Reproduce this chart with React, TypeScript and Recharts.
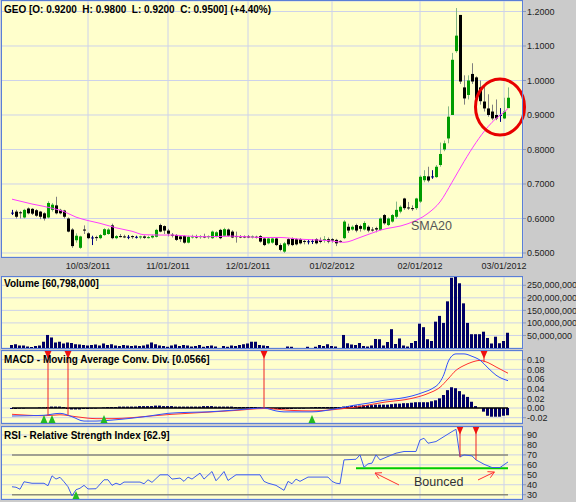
import React from 'react';
import {
  ComposedChart,
  Bar,
  Line,
  XAxis,
  YAxis,
  CartesianGrid,
  ReferenceLine,
  ReferenceDot,
} from 'recharts';

// daily candles, GEO, Sep 2011 - Mar 2012
const opens = [
  0.617, 0.62, 0.618, 0.603, 0.629, 0.628, 0.624, 0.62, 0.615, 0.603, 0.625, 0.638, 0.625, 0.623, 0.6, 0.568, 0.537, 0.515, 0.568, 0.557,
  0.545, 0.546, 0.543, 0.552, 0.555, 0.58, 0.543, 0.549, 0.548, 0.547, 0.549, 0.547, 0.546, 0.548, 0.544, 0.545, 0.547, 0.581, 0.578, 0.565,
  0.553, 0.552, 0.548, 0.549, 0.53, 0.547, 0.549, 0.546, 0.548, 0.546, 0.543, 0.548, 0.567, 0.55, 0.568, 0.562, 0.549, 0.548, 0.548, 0.548,
  0.546, 0.547, 0.549, 0.542, 0.528, 0.53, 0.542, 0.523, 0.504, 0.54, 0.542, 0.54, 0.54, 0.535, 0.534, 0.535, 0.54, 0.537, 0.538, 0.54,
  0.54, 0.538, 0.535, 0.543, 0.576, 0.568, 0.581, 0.578, 0.568, 0.576, 0.568, 0.572, 0.567, 0.61, 0.581, 0.591, 0.605, 0.62, 0.658, 0.632,
  0.63, 0.63, 0.649, 0.711, 0.722, 0.722, 0.72, 0.755, 0.8, 0.832, 0.9, 1.085, 1.19, 0.98, 0.958, 1.019, 1.009, 0.98, 0.939, 0.919,
  0.91, 0.9, 0.9, 0.89, 0.92,
];
const highs = [
  0.625, 0.625, 0.622, 0.628, 0.632, 0.63, 0.627, 0.622, 0.618, 0.65, 0.645, 0.663, 0.628, 0.625, 0.603, 0.572, 0.557, 0.55, 0.58, 0.56,
  0.55, 0.55, 0.555, 0.572, 0.572, 0.585, 0.552, 0.555, 0.553, 0.552, 0.551, 0.55, 0.55, 0.551, 0.55, 0.553, 0.57, 0.585, 0.58, 0.57,
  0.558, 0.555, 0.552, 0.552, 0.55, 0.553, 0.553, 0.552, 0.556, 0.551, 0.565, 0.563, 0.57, 0.573, 0.571, 0.566, 0.562, 0.552, 0.551, 0.552,
  0.551, 0.55, 0.552, 0.545, 0.545, 0.546, 0.545, 0.528, 0.532, 0.543, 0.545, 0.543, 0.543, 0.538, 0.538, 0.54, 0.543, 0.545, 0.549, 0.545,
  0.543, 0.541, 0.537, 0.595, 0.585, 0.58, 0.585, 0.582, 0.592, 0.58, 0.575, 0.576, 0.603, 0.613, 0.603, 0.613, 0.649, 0.638, 0.66, 0.648,
  0.638, 0.66, 0.725, 0.74, 0.75, 0.74, 0.755, 0.82, 0.826, 0.925, 1.08, 1.21, 1.19, 1.015, 1.015, 1.05, 1.012, 1.0, 0.985, 0.96,
  0.93, 0.945, 0.92, 0.95, 0.98,
];
const lows = [
  0.61, 0.6, 0.6, 0.6, 0.612, 0.61, 0.605, 0.598, 0.594, 0.6, 0.62, 0.612, 0.612, 0.6, 0.56, 0.515, 0.53, 0.512, 0.555, 0.54,
  0.523, 0.535, 0.54, 0.55, 0.553, 0.54, 0.54, 0.545, 0.543, 0.54, 0.541, 0.542, 0.54, 0.541, 0.542, 0.542, 0.545, 0.56, 0.555, 0.548,
  0.545, 0.535, 0.532, 0.527, 0.528, 0.542, 0.542, 0.541, 0.543, 0.541, 0.541, 0.545, 0.54, 0.548, 0.547, 0.543, 0.53, 0.543, 0.543, 0.543,
  0.542, 0.542, 0.53, 0.52, 0.525, 0.527, 0.52, 0.505, 0.5, 0.52, 0.52, 0.522, 0.525, 0.525, 0.525, 0.526, 0.525, 0.528, 0.53, 0.528,
  0.53, 0.52, 0.53, 0.54, 0.558, 0.565, 0.56, 0.562, 0.565, 0.56, 0.562, 0.56, 0.565, 0.582, 0.578, 0.588, 0.6, 0.615, 0.625, 0.625,
  0.622, 0.625, 0.645, 0.705, 0.705, 0.715, 0.718, 0.75, 0.795, 0.818, 0.9, 1.08, 0.99, 0.93, 0.945, 0.99, 0.945, 0.93, 0.91, 0.895,
  0.885, 0.885, 0.88, 0.888, 0.92,
];
const closes = [
  0.617, 0.605, 0.617, 0.625, 0.615, 0.614, 0.608, 0.605, 0.6, 0.645, 0.64, 0.615, 0.615, 0.605, 0.562, 0.52, 0.55, 0.548, 0.565, 0.543,
  0.545, 0.545, 0.552, 0.569, 0.568, 0.543, 0.549, 0.547, 0.546, 0.547, 0.546, 0.547, 0.548, 0.544, 0.546, 0.55, 0.567, 0.562, 0.565, 0.556,
  0.552, 0.538, 0.54, 0.53, 0.547, 0.548, 0.545, 0.549, 0.546, 0.549, 0.562, 0.56, 0.543, 0.569, 0.55, 0.545, 0.548, 0.547, 0.547, 0.546,
  0.548, 0.546, 0.533, 0.523, 0.542, 0.542, 0.523, 0.509, 0.528, 0.525, 0.523, 0.525, 0.528, 0.534, 0.534, 0.535, 0.528, 0.532, 0.54, 0.533,
  0.536, 0.528, 0.534, 0.591, 0.565, 0.576, 0.565, 0.57, 0.587, 0.565, 0.567, 0.568, 0.6, 0.586, 0.6, 0.61, 0.625, 0.634, 0.63, 0.631,
  0.629, 0.658, 0.721, 0.723, 0.71, 0.722, 0.75, 0.787, 0.818, 0.895, 1.06, 1.13, 0.997, 0.948, 1.0, 0.997, 0.948, 0.94, 0.919, 0.9,
  0.89, 0.89, 0.9, 0.91, 0.95,
];
// volume in millions of shares
const volumes = [
  12, 15, 10, 10, 6, 4, 8, 10, 25, 52, 42, 22, 25, 18, 22, 20, 15, 14, 12, 10,
  12, 14, 10, 18, 12, 15, 10, 8, 12, 10, 8, 10, 8, 10, 14, 22, 15, 10, 8, 5,
  10, 14, 8, 12, 10, 6, 8, 12, 5, 8, 10, 6, 0, 8, 5, 10, 8, 12, 15, 18,
  25, 25, 12, 10, 8, 0, 0, 0, 0, 6, 5, 0, 0, 0, 5, 0, 5, 12, 8, 15,
  8, 6, 0, 52, 19, 14, 12, 20, 8, 6, 10, 36, 35, 10, 24, 75, 16, 38, 10, 6,
  20, 28, 97, 83, 35, 28, 105, 128, 100, 186, 280, 286, 258, 178, 100, 55, 55, 55, 65, 40,
  18, 45, 19, 28, 60.798,
];
const macdHist = [
  -0.002, -0.002, -0.001, -0.001, 0, 0, 0, 0.001, 0.001, 0.002, 0.003, 0.003, 0.003, 0.002, -0.002, -0.003, -0.003, -0.003, -0.002, -0.002,
  -0.001, -0.001, 0, 0.001, 0.002, 0.002, 0.002, 0.003, 0.003, 0.003, 0.003, 0.003, 0.004, 0.004, 0.004, 0.004, 0.005, 0.005, 0.004, 0.004,
  0.004, 0.003, 0.003, 0.003, 0.003, 0.003, 0.003, 0.003, 0.004, 0.004, 0.004, 0.003, 0.003, 0.003, 0.003, 0.003, 0.002, 0.002, 0.002, 0.002,
  0.002, 0.002, 0.001, 0, -0.001, -0.002, -0.002, -0.002, -0.002, -0.002, -0.002, -0.001, -0.001, -0.001, 0, 0.001, 0.002, 0.002, 0.002, 0.002,
  0.002, 0.002, 0.002, 0.003, 0.004, 0.004, 0.005, 0.005, 0.006, 0.006, 0.006, 0.007, 0.007, 0.007, 0.007, 0.008, 0.009, 0.009, 0.01, 0.01,
  0.011, 0.012, 0.012, 0.012, 0.012, 0.014, 0.016, 0.02, 0.027, 0.037, 0.043, 0.041, 0.035, 0.028, 0.023, 0.013, 0.004, 0, -0.0075, -0.016,
  -0.018, -0.018, -0.018, -0.016, -0.015,
];

// [bar index, value]
const smaPoints: [number, number][] = [
  [0, 0.656], [5, 0.642], [10, 0.63], [13, 0.62], [16, 0.604], [19, 0.594], [22, 0.586], [26, 0.573], [30, 0.563], [33, 0.553],
  [37, 0.552], [40, 0.552], [44, 0.549], [49, 0.547], [55, 0.549], [62, 0.545], [67, 0.545], [72, 0.54], [79, 0.536], [83, 0.531],
  [87, 0.545], [92, 0.566], [99, 0.585], [104, 0.615], [107, 0.648], [110, 0.705], [113, 0.765], [116, 0.82], [119, 0.866],
  [121, 0.89], [123, 0.908], [124, 0.919],
];
const macdPoints: [number, number][] = [
  [0, -0.0165], [4, -0.016], [8, -0.015], [12, -0.011], [15, -0.018], [18, -0.027], [21, -0.027], [25, -0.025], [30, -0.021],
  [34, -0.017], [39, -0.011], [44, -0.009], [49, -0.008], [56, -0.004], [63, 0], [66, -0.006], [68, -0.008], [75, -0.008],
  [80, -0.003], [82, 0], [85, 0.005], [89, 0.01], [93, 0.016], [97, 0.02], [100, 0.025], [103, 0.033], [105, 0.04], [107, 0.054],
  [108, 0.07], [109, 0.095], [110, 0.108], [111, 0.112], [113, 0.112], [115, 0.107], [117, 0.099], [119, 0.083], [121, 0.068],
  [124, 0.0566],
];
const signalPoints: [number, number][] = [
  [0, -0.013], [4, -0.015], [8, -0.016], [12, -0.014], [16, -0.018], [21, -0.022], [25, -0.022], [30, -0.02], [34, -0.017],
  [40, -0.013], [48, -0.009], [56, -0.005], [63, -0.001], [70, -0.005], [75, -0.006], [82, -0.002], [86, 0.002], [93, 0.012],
  [100, 0.02], [104, 0.03], [107, 0.043], [109, 0.06], [111, 0.078], [113, 0.088], [115, 0.095], [117, 0.0985], [118, 0.097],
  [119, 0.094], [121, 0.085], [124, 0.072],
];
const rsiPoints: [number, number][] = [
  [0, 38], [1, 37.5], [2, 35.5], [3, 43], [5, 41.5], [8, 41.5], [9, 39], [10, 49], [11, 45.7], [12, 47.5], [13, 43], [14, 38],
  [15, 28.8], [16, 35], [17, 36.5], [18, 39.4], [19, 35.8], [21, 36], [23, 45], [24, 45], [25, 39.4], [26, 41.6], [27, 40],
  [28, 42.7], [32, 42.7], [33, 41], [34, 45], [35, 42.4], [37, 50], [39, 50], [40, 45.7], [42, 46.7], [43, 43.4], [44, 47.7],
  [45, 45.7], [47, 51.7], [48, 45.7], [50, 53.3], [51, 44], [52, 48.4], [53, 53.3], [54, 44.3], [56, 50], [62, 50], [63, 43.4],
  [64, 41.6], [66, 39.4], [68, 34.4], [69, 43.4], [70, 41], [71, 45.7], [72, 43.4], [74, 47.7], [79, 47.7], [80, 43.4],
  [81, 41.6], [82, 41], [83, 65], [86, 65.6], [87, 70], [88, 57.6], [89, 61], [90, 61.7], [91, 70], [92, 65], [94, 68.4],
  [96, 71.7], [98, 73.4], [101, 73.4], [102, 85], [103, 86.7], [104, 81.7], [106, 83.4], [108, 88.4], [110, 93.4], [111, 95.7],
  [112, 68], [113, 70], [114, 69.5], [115, 69], [116, 65], [118, 60.6], [120, 57.3], [122, 57.3], [124, 62.9],
];

const dateTicks = [19, 39, 59, 80, 102, 123];
const dateLabels = ['10/03/2011', '11/01/2011', '12/01/2011', '01/02/2012', '02/01/2012', '03/01/2012'];
const priceTicks = [0.5, 0.6, 0.7, 0.8, 0.9, 1.0, 1.1, 1.2];
const volumeTicks = [50, 100, 150, 200, 250];
const macdTicks = [-0.02, 0, 0.02, 0.04, 0.06, 0.08, 0.1];
const rsiTicks = [30, 40, 50, 60, 70, 80, 90];

// signal markers: bar index and where the marker line ends
const macdSells = [
  { i: 9, end: -0.0145 },
  { i: 14, end: -0.0145 },
  { i: 63, end: 0 },
  { i: 118, end: 0.095 },
];
const macdBuys = [8, 10, 23, 75];
const rsiSells = [
  { i: 112, end: 67.6 },
  { i: 116, end: 65 },
];
const rsiBuys = [16];
const rsiSupport = 56.6;

const smaMap = new Map(smaPoints);
const macdMap = new Map(macdPoints);
const signalMap = new Map(signalPoints);
const rsiMap = new Map(rsiPoints);

const rows = opens.map((o, i) => ({
  i,
  o,
  h: highs[i],
  l: lows[i],
  c: closes[i],
  range: [lows[i], highs[i]],
  vol: volumes[i],
  hist: macdHist[i],
  sma: smaMap.get(i) ?? null,
  macd: macdMap.get(i) ?? null,
  signal: signalMap.get(i) ?? null,
  rsi: rsiMap.get(i) ?? null,
}));

const GRID = '#cdd2ea';
const PANEL = '#ffffcc';
const BORDER = '#5a7fd6';
const X_DOMAIN = [-2.75, 127.75];
const axisTick = { fontSize: 9, fill: '#222' };

const Candle = (props: any) => {
  const { x, width, payload } = props;
  let { y, height } = props;
  if (x == null || payload == null) return null;
  if (height < 0) {
    y += height;
    height = -height;
  }
  const { o, h, l, c } = payload;
  const px = Math.round(x + width / 2);
  const span = h - l;
  const py = (v: number) => (span > 0 ? y + ((h - v) / span) * height : y);
  const up = c > o;
  const down = c < o;
  const body = up ? '#009c00' : down ? '#000000' : '#000080';
  const wick = up ? '#86b886' : down ? '#808080' : '#000080';
  const top = py(Math.max(o, c));
  const bot = py(Math.min(o, c));
  return (
    <g>
      <line x1={px + 0.5} x2={px + 0.5} y1={y} y2={y + Math.max(height, 1)} stroke={wick} strokeWidth={1} />
      {up || down ? (
        <rect x={px - 1} y={top} width={3} height={Math.max(1, bot - top)} fill={body} />
      ) : (
        <line x1={px - 1} x2={px + 2} y1={top + 0.5} y2={top + 0.5} stroke={body} strokeWidth={1} />
      )}
    </g>
  );
};

const TriDown = (p: any) => (
  <polygon points={`${p.cx - 3.5},${p.cy - 4} ${p.cx + 3.5},${p.cy - 4} ${p.cx},${p.cy + 4}`} fill="#ee1111" />
);
const TriUp = (p: any) => (
  <polygon points={`${p.cx - 3.5},${p.cy + 4} ${p.cx + 3.5},${p.cy + 4} ${p.cx},${p.cy - 4}`} fill="#22bb22" />
);
const Ring = (p: any) => (
  <ellipse cx={p.cx} cy={p.cy} rx={24.5} ry={28} fill="none" stroke="#e80000" strokeWidth={3} />
);
const Arrow = (p: any) => {
  const { x1, y1, x2, y2 } = p;
  const a = Math.atan2(y2 - y1, x2 - x1);
  const len = 7;
  const hx1 = x2 - len * Math.cos(a - 0.5);
  const hy1 = y2 - len * Math.sin(a - 0.5);
  const hx2 = x2 - len * Math.cos(a + 0.5);
  const hy2 = y2 - len * Math.sin(a + 0.5);
  return (
    <g stroke="#ff3030" strokeWidth={1} fill="none">
      <line x1={x1} y1={y1} x2={x2} y2={y2} />
      <polyline points={`${hx1},${hy1} ${x2},${y2} ${hx2},${hy2}`} />
    </g>
  );
};

const Border = ({ top, height }: { top: number; height: number }) => (
  <div
    style={{
      position: 'absolute',
      left: 1,
      top,
      width: 522,
      height,
      boxSizing: 'border-box',
      border: `1px solid ${BORDER}`,
      pointerEvents: 'none',
    }}
  />
);

const Title = ({ top, children }: { top: number; children: React.ReactNode }) => (
  <div
    style={{
      position: 'absolute',
      left: 4,
      top,
      fontSize: 10,
      lineHeight: '12px',
      fontWeight: 'bold',
      color: '#000',
      whiteSpace: 'pre',
    }}
  >
    {children}
  </div>
);

export default function App() {
  return (
    <div
      style={{
        position: 'absolute',
        left: 0,
        top: 0,
        width: 576,
        height: 502,
        background: '#cbcbcb',
        overflow: 'hidden',
        fontFamily: '"Liberation Sans", Arial, sans-serif',
      }}
    >
      {/* price */}
      <div style={{ position: 'absolute', left: 0, top: 0 }}>
        <ComposedChart width={576} height={275} data={rows} margin={{ top: 1, right: 0, left: 1, bottom: 0 }}>
          <CartesianGrid stroke={GRID} fill={PANEL} />
          <XAxis
            dataKey="i"
            type="number"
            domain={X_DOMAIN}
            ticks={dateTicks}
            allowDataOverflow
            interval={0}
            height={18}
            tickLine={false}
            axisLine={false}
            tickSize={0}
            tickMargin={6}
            tick={axisTick}
            tickFormatter={(v) => dateLabels[dateTicks.indexOf(v)] ?? ''}
          />
          <YAxis
            orientation="right"
            width={53}
            domain={[0.4884, 1.2304]}
            ticks={priceTicks}
            allowDataOverflow
            interval={0}
            axisLine={false}
            tickSize={3}
            tickMargin={1}
            stroke="#8899bb"
            tick={axisTick}
            tickFormatter={(v) => v.toFixed(4)}
          />
          <Bar dataKey="range" barSize={3} shape={<Candle />} isAnimationActive={false} />
          <Line
            dataKey="sma"
            type="monotone"
            stroke="#ff3cff"
            strokeWidth={1}
            dot={false}
            activeDot={false}
            connectNulls
            isAnimationActive={false}
          />
          <ReferenceDot x={122} y={0.923} r={26} shape={Ring} ifOverflow="visible" />
        </ComposedChart>
      </div>
      <Border top={0} height={258} />
      <Title top={4}>GEO [O: 0.9200  H: 0.9800  L: 0.9200  C: 0.9500] (+4.40%)</Title>
      <div style={{ position: 'absolute', left: 411, top: 219, fontSize: 12.5, lineHeight: '15px', color: '#555' }}>
        SMA20
      </div>

      {/* volume */}
      <div style={{ position: 'absolute', left: 0, top: 277 }}>
        <ComposedChart width={576} height={71} data={rows} margin={{ top: 0, right: 0, left: 1, bottom: 0 }}>
          <CartesianGrid stroke={GRID} fill={PANEL} />
          <XAxis hide dataKey="i" type="number" domain={X_DOMAIN} ticks={dateTicks} allowDataOverflow />
          <YAxis
            orientation="right"
            width={53}
            domain={[0, 283]}
            ticks={volumeTicks}
            allowDataOverflow
            interval={0}
            axisLine={false}
            tickSize={3}
            tickMargin={1}
            stroke="#8899bb"
            tick={axisTick}
            tickFormatter={(v) => (v * 1e6).toLocaleString('en-US')}
          />
          <Bar dataKey="vol" barSize={3} fill="#000066" isAnimationActive={false} />
        </ComposedChart>
      </div>
      <Border top={276} height={73} />
      <Title top={278}>Volume [60,798,000]</Title>

      {/* MACD */}
      <div style={{ position: 'absolute', left: 0, top: 351 }}>
        <ComposedChart width={576} height={72} data={rows} margin={{ top: 0, right: 0, left: 1, bottom: 0 }}>
          <CartesianGrid stroke={GRID} fill={PANEL} />
          <XAxis hide dataKey="i" type="number" domain={X_DOMAIN} ticks={dateTicks} allowDataOverflow />
          <YAxis
            orientation="right"
            width={53}
            domain={[-0.031, 0.118]}
            ticks={macdTicks}
            allowDataOverflow
            interval={0}
            axisLine={false}
            tickSize={3}
            tickMargin={1}
            stroke="#8899bb"
            tick={axisTick}
            tickFormatter={(v) => v.toFixed(2)}
          />
          <ReferenceLine
            segment={[
              { x: 0, y: 0 },
              { x: 124, y: 0 },
            ]}
            stroke="#000"
            strokeWidth={1.5}
          />
          <Bar dataKey="hist" barSize={3} fill="#000066" isAnimationActive={false} />
          <Line
            dataKey="signal"
            type="monotone"
            stroke="#ff3030"
            strokeWidth={1}
            dot={false}
            activeDot={false}
            connectNulls
            isAnimationActive={false}
          />
          <Line
            dataKey="macd"
            type="monotone"
            stroke="#3050ff"
            strokeWidth={1}
            dot={false}
            activeDot={false}
            connectNulls
            isAnimationActive={false}
          />
          {macdSells.map((s) => (
            <ReferenceLine
              key={`ml${s.i}`}
              segment={[
                { x: s.i, y: 0.11 },
                { x: s.i, y: s.end },
              ]}
              stroke="#ee2222"
              strokeWidth={1}
            />
          ))}
          {macdSells.map((s) => (
            <ReferenceDot key={`ms${s.i}`} x={s.i} y={0.11} r={4} shape={TriDown} />
          ))}
          {macdBuys.map((b) => (
            <ReferenceDot key={`mb${b}`} x={b} y={-0.0228} r={4} shape={TriUp} />
          ))}
        </ComposedChart>
      </div>
      <Border top={350} height={74} />
      <Title top={354}>MACD - Moving Average Conv. Div. [0.0566]</Title>

      {/* RSI */}
      <div style={{ position: 'absolute', left: 0, top: 427 }}>
        <ComposedChart width={576} height={72} data={rows} margin={{ top: 0, right: 0, left: 1, bottom: 0 }}>
          <CartesianGrid stroke={GRID} fill={PANEL} />
          <XAxis hide dataKey="i" type="number" domain={X_DOMAIN} ticks={dateTicks} allowDataOverflow />
          <YAxis
            orientation="right"
            width={53}
            domain={[25.7, 98]}
            ticks={rsiTicks}
            allowDataOverflow
            interval={0}
            axisLine={false}
            tickSize={3}
            tickMargin={1}
            stroke="#8899bb"
            tick={axisTick}
          />
          {[70, 30].map((lvl) => (
            <ReferenceLine
              key={`lvl${lvl}`}
              segment={[
                { x: 0, y: lvl },
                { x: 124, y: lvl },
              ]}
              stroke="#8a8a7a"
              strokeWidth={1.5}
            />
          ))}
          <ReferenceLine
            segment={[
              { x: 86, y: rsiSupport },
              { x: 124, y: rsiSupport },
            ]}
            stroke="#00cc00"
            strokeWidth={2}
          />
          <Line
            dataKey="rsi"
            type="linear"
            stroke="#3e5ef0"
            strokeWidth={1}
            dot={false}
            activeDot={false}
            connectNulls
            isAnimationActive={false}
          />
          {rsiSells.map((s) => (
            <ReferenceLine
              key={`rl${s.i}`}
              segment={[
                { x: s.i, y: 94.5 },
                { x: s.i, y: s.end },
              ]}
              stroke="#ee2222"
              strokeWidth={1}
            />
          ))}
          {rsiSells.map((s) => (
            <ReferenceDot key={`rs${s.i}`} x={s.i} y={94.5} r={4} shape={TriDown} />
          ))}
          {rsiBuys.map((b) => (
            <ReferenceDot key={`rb${b}`} x={b} y={29.7} r={4} shape={TriUp} />
          ))}
          <ReferenceLine
            segment={[
              { x: 96.75, y: 39.8 },
              { x: 90.75, y: 51.8 },
            ]}
            shape={Arrow}
          />
          <ReferenceLine
            segment={[
              { x: 116.5, y: 44.8 },
              { x: 120.6, y: 52.8 },
            ]}
            shape={Arrow}
          />
        </ComposedChart>
      </div>
      <Border top={426} height={74} />
      <Title top={430}>RSI - Relative Strength Index [62.9]</Title>
      <div style={{ position: 'absolute', left: 414, top: 475, fontSize: 12.5, lineHeight: '15px', color: '#333' }}>
        Bounced
      </div>
    </div>
  );
}
